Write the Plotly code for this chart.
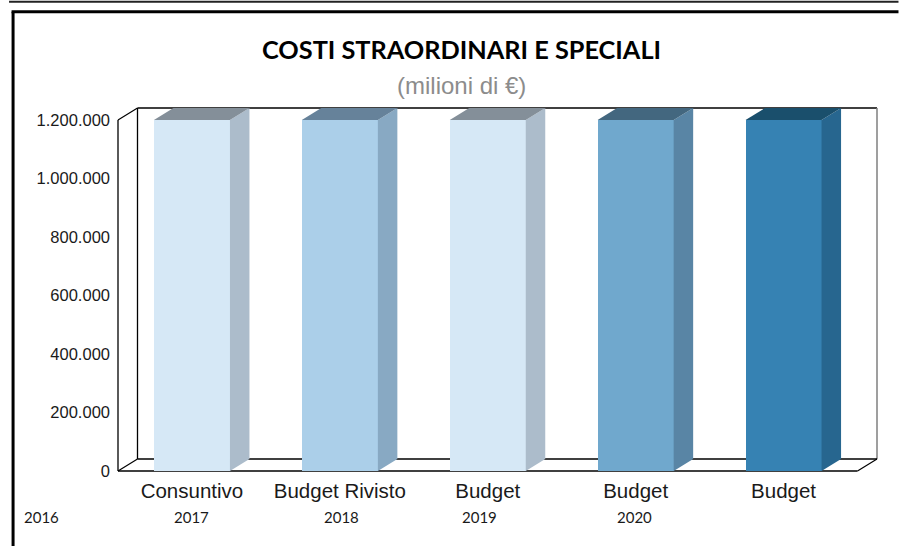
import plotly.graph_objects as go

categories = ["Consuntivo", "Budget Rivisto", "Budget", "Budget", "Budget"]
years = ["2016", "2017", "2018", "2019", "2020"]
values = [1200000, 1200000, 1200000, 1200000, 1200000]
front_colors = ["#D6E8F6", "#ABCFE9", "#D6E8F6", "#70A8CD", "#3682B3"]
side_colors = ["#ACBCCB", "#88A9C3", "#ACBCCB", "#5985A5", "#27668F"]
top_colors = ["#848F99", "#66829A", "#848F99", "#43677F", "#1A4F6C"]
y_ticks = [0, 200000, 400000, 600000, 800000, 1000000, 1200000]
y_labels = ["0", "200.000", "400.000", "600.000", "800.000", "1.000.000", "1.200.000"]

W, H = 899, 546
PAD = 3
L, R, T, B = 118 - PAD, 877.5 + PAD, 107.5 - PAD, 471 + PAD   # plot box in px
DX_PX, DY_PX = 19.5, 12
FRONT_W = 739.5
FRONT_H = 351.5
YMAX = 1200000
ux = FRONT_W / 5
uy = FRONT_H / YMAX
dx = DX_PX / ux
dy = DY_PX / uy
half = 0.257
x0, x1 = -0.5, 4.5


def px(v):
    return (v - L) / (R - L)


def py(v):
    return (B - v) / (B - T)


def seg(xa, ya, xb, yb, color="#000000", width=1.3):
    return dict(type="line", xref="x", yref="y", x0=xa, y0=ya, x1=xb, y1=yb, layer="below",
                line=dict(color=color, width=width))


def page_line(xa, ya, xb, yb, color, width):
    return dict(type="line", xref="paper", yref="paper", x0=px(xa), y0=py(ya), x1=px(xb), y1=py(yb),
                line=dict(color=color, width=width))


fig = go.Figure()

# 3D bars
for i, v in enumerate(values):
    a, b = i - half, i + half
    fig.add_trace(go.Scatter(x=[b, b + dx, b + dx, b, b], y=[0, dy, v + dy, v, 0], mode="lines",
                             fill="toself", fillcolor=side_colors[i], line=dict(width=0),
                             hoverinfo="skip", showlegend=False))
    fig.add_trace(go.Scatter(x=[a, a + dx, b + dx, b, a], y=[v, v + dy, v + dy, v, v], mode="lines",
                             fill="toself", fillcolor=top_colors[i], line=dict(width=0),
                             hoverinfo="skip", showlegend=False))

fig.add_trace(go.Bar(x=list(range(len(values))), y=values, width=2 * half,
                     marker=dict(color=front_colors, line=dict(width=0)), showlegend=False))

annotations = [
    dict(text="<b>COSTI STRAORDINARI E SPECIALI</b>", xref="paper", yref="paper",
         x=px(462), y=py(48), xanchor="center", yanchor="middle",
         showarrow=False, font=dict(family="Lato", size=25.3, color="#000000")),
    dict(text="(milioni di €)", xref="paper", yref="paper",
         x=px(462), y=py(85), xanchor="center", yanchor="middle",
         showarrow=False, font=dict(family="Liberation Sans", size=24, color="#8C8C8C")),
]
year_px = [41, 192, 342, 480, 635]
for yr, xp in zip(years, year_px):
    annotations.append(dict(text=yr, xref="paper", yref="paper", x=px(xp), y=py(517),
                            xanchor="center", yanchor="middle",
                            showarrow=False, font=dict(family="Lato", size=15, color="#1a1a1a")))

shapes = [
    seg(x0, 0, x0, YMAX),
    seg(x0, YMAX, x0 + dx, YMAX + dy),
    seg(x0 + dx, YMAX + dy, x0 + dx, dy),
    seg(x0 + dx, YMAX + dy, x1 + dx, YMAX + dy),
    seg(x1 + dx, YMAX + dy, x1 + dx, dy, color="#7F7F7F", width=1.5),
    seg(x0, 0, x1, 0, width=1.6),
    seg(x0, 0, x0 + dx, dy),
    seg(x0 + dx, dy, x1 + dx, dy, width=1.6),
    seg(x1 + dx, dy, x1, 0),
    page_line(9, 1, W, 1, "#222222", 2),
    page_line(11.5, 11, W, 11, "#000000", 3),
    page_line(13, 11, 13, H, "#000000", 3),
]

fig.update_layout(
    width=W, height=H, autosize=False,
    margin=dict(l=L, r=W - R, t=T, b=H - B, pad=0),
    paper_bgcolor="white", plot_bgcolor="white",
    showlegend=False, bargap=0,
    annotations=annotations,
    shapes=shapes,
    xaxis=dict(range=[x0 - PAD / ux, x1 + dx + PAD / ux], tickmode="array", tickvals=list(range(5)),
               ticktext=categories, showgrid=False, zeroline=False, showline=False, ticks="",
               ticklabelstandoff=2, tickfont=dict(family="Liberation Sans", size=20.5, color="#1a1a1a")),
    yaxis=dict(range=[-PAD / uy, YMAX + dy + PAD / uy], tickmode="array", tickvals=y_ticks,
               ticktext=y_labels, showgrid=False, zeroline=False, showline=False, ticks="",
               ticklabelstandoff=4, tickfont=dict(family="Liberation Sans", size=16.5, color="#1a1a1a")),
)
fig.write_html("out.html", config=dict(displayModeBar=False),
               post_script="document.body.style.margin='0';document.documentElement.style.overflow='hidden';")
